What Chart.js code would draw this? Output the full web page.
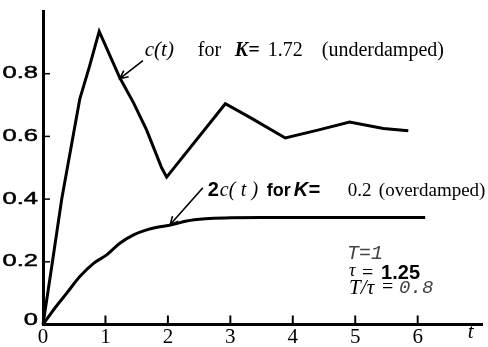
<!DOCTYPE html>
<html>
<head>
<meta charset="utf-8">
<script src="https://cdn.jsdelivr.net/npm/chart.js@4"></script>
<style>
  html, body { margin: 0; padding: 0; background: #fff; }
</style>
</head>
<body>
<canvas id="respChart" width="488" height="347"></canvas>
<script>
// underdamped response, K = 1.72
const tUnder = [0, 0.14, 0.30, 0.49, 0.59, 0.74, 0.90, 1.23, 1.45, 1.66, 1.8, 1.9, 1.98, 2.92, 3.32, 3.88, 4.4, 4.91, 5.45, 5.85];
const cUnder = [0, 0.185, 0.40, 0.61, 0.72, 0.82, 0.935, 0.787, 0.707, 0.62, 0.55, 0.50, 0.47, 0.704, 0.66, 0.595, 0.62, 0.646, 0.625, 0.618];

// overdamped response (2c(t)), K = 0.2
const tOver = [0, 0.2, 0.38, 0.59, 0.81, 1.02, 1.23, 1.45, 1.66, 1.87, 2.04, 2.3, 2.6, 2.9, 3.5, 4.5, 5.5, 6.12];
const cOver = [0, 0.055, 0.10, 0.153, 0.195, 0.222, 0.259, 0.286, 0.302, 0.312, 0.317, 0.33, 0.337, 0.34, 0.341, 0.341, 0.341, 0.341];

const xTicks = [0, 1, 2, 3, 4, 5, 6];
const yTicks = [0, 0.2, 0.4, 0.6, 0.8];
const yLabels = ["0", "0.2", "0.4", "0.6", "0.8"];

function toPoints(ts, vs) {
    return ts.map((t, i) => ({ x: t, y: vs[i] }));
}

const SERIF = "'Liberation Serif', 'Times New Roman', serif";
const SANS = "'Liberation Sans', Arial, sans-serif";
const MONO = "'Liberation Mono', 'Courier New', monospace";

function piece(ctx, text, x, y, font, color) {
    ctx.font = font;
    ctx.fillStyle = color || "#000";
    ctx.fillText(text, x, y);
}

function arrow(ctx, x1, y1, x2, y2) {
    let ang = Math.atan2(y2 - y1, x2 - x1);
    let h = 9;
    ctx.beginPath();
    ctx.moveTo(x1, y1);
    ctx.lineTo(x2, y2);
    ctx.moveTo(x2 - h * Math.cos(ang - 0.45), y2 - h * Math.sin(ang - 0.45));
    ctx.lineTo(x2, y2);
    ctx.lineTo(x2 - h * Math.cos(ang + 0.45), y2 - h * Math.sin(ang + 0.45));
    ctx.strokeStyle = "#000";
    ctx.lineWidth = 1.6;
    ctx.stroke();
}

const decorPlugin = {
    id: "decor",
    afterDraw(chart) {
        let ctx = chart.ctx;
        let xs = chart.scales.x;
        let ys = chart.scales.y;
        let X = v => xs.getPixelForValue(v);
        let Y = v => ys.getPixelForValue(v);
        let x0 = X(0), y0 = Y(0);

        ctx.save();
        ctx.strokeStyle = "#000";

        // tick marks on the inside of the axes
        ctx.lineWidth = 2;
        xTicks.slice(1).forEach(v => {
            ctx.beginPath();
            ctx.moveTo(X(v), y0);
            ctx.lineTo(X(v), y0 - 9);
            ctx.stroke();
        });
        ctx.lineWidth = 1.5;
        yTicks.slice(1).forEach(v => {
            ctx.beginPath();
            ctx.moveTo(x0, Y(v));
            ctx.lineTo(x0 + 7, Y(v));
            ctx.stroke();
        });

        // y tick labels (wide sans)
        ctx.textAlign = "right";
        ctx.textBaseline = "middle";
        ctx.lineWidth = 0.5;
        yTicks.forEach((v, i) => {
            ctx.save();
            ctx.translate(38, v === 0 ? Y(v) - 4 : Y(v));
            ctx.scale(1.5, 1);
            piece(ctx, yLabels[i], 0, 0, "17px " + SANS);
            ctx.strokeText(yLabels[i], 0, 0);
            ctx.restore();
        });

        ctx.textAlign = "left";
        ctx.textBaseline = "alphabetic";

        // label for underdamped curve
        let lx = X(1.63), ly = Y(0.855);
        piece(ctx, "c(t)", lx, ly, "italic 21px " + SERIF);
        piece(ctx, "for", lx + 53, ly, "20px " + SERIF);
        piece(ctx, "K=", lx + 90, ly, "bold italic 20px " + SERIF);
        piece(ctx, "1.72", lx + 123, ly, "20px " + SERIF);
        piece(ctx, "(underdamped)", lx + 177, ly, "20px " + SERIF);
        arrow(ctx, X(1.60), Y(0.842), X(1.23), Y(0.784));

        // label for overdamped curve
        let ox = X(2.64), oy = Y(0.41);
        piece(ctx, "2", ox, oy, "bold 20px " + SANS);
        piece(ctx, "c(", ox + 12, oy, "italic 20px " + SERIF);
        piece(ctx, "t )", ox + 33, oy, "italic 20px " + SERIF);
        piece(ctx, "for", ox + 59, oy, "bold 18px " + SANS);
        piece(ctx, "K=", ox + 86, oy, "bold italic 20px " + SANS);
        piece(ctx, "0.2", ox + 140, oy, "19px " + SERIF);
        piece(ctx, "(overdamped)", ox + 171, oy, "19px " + SERIF);
        arrow(ctx, X(2.56), Y(0.436), X(2.035), Y(0.318));

        // parameters
        let px = X(4.87);
        piece(ctx, "T=1", px, Y(0.209), "italic 20px " + MONO, "#444");
        piece(ctx, "\u03C4", px + 2, Y(0.155), "italic 18px " + SERIF);
        piece(ctx, "=", px + 15, Y(0.146), "20px " + SERIF);
        piece(ctx, "1.25", px + 34, Y(0.146), "bold 20px " + SANS);
        piece(ctx, "T/\u03C4", px + 2, Y(0.097), "italic 21px " + SERIF);
        piece(ctx, "=", px + 35, Y(0.099), "20px " + SERIF);
        piece(ctx, "0.8", px + 52, Y(0.099), "italic 19px " + MONO, "#444");

        // axis name
        piece(ctx, "t", X(6.8), Y(-0.043), "italic 21px " + SERIF);

        ctx.restore();
    }
};

new Chart(document.getElementById("respChart").getContext("2d"), {
    type: "line",
    data: {
        datasets: [
            {
                data: toPoints(tUnder, cUnder),
                borderColor: "#000",
                borderWidth: 3,
                pointRadius: 0,
                tension: 0,
                fill: false,
                clip: 6
            },
            {
                data: toPoints(tOver, cOver),
                borderColor: "#000",
                borderWidth: 3,
                pointRadius: 0,
                cubicInterpolationMode: "monotone",
                fill: false,
                clip: 6
            }
        ]
    },
    options: {
        responsive: false,
        animation: false,
        devicePixelRatio: 1,
        layout: { padding: { top: 11, right: 6, left: 0, bottom: 0 } },
        plugins: { legend: { display: false }, tooltip: { enabled: false } },
        scales: {
            x: {
                type: "linear",
                min: 0,
                max: 7.03,
                grid: { display: false, drawTicks: false },
                border: { display: true, color: "#000", width: 3 },
                ticks: {
                    stepSize: 1,
                    padding: 0,
                    color: "#000",
                    font: { family: SERIF, size: 21 },
                    callback: v => (xTicks.includes(v) ? String(v) : "")
                },
                afterFit: s => { s.height = 22.5; }
            },
            y: {
                type: "linear",
                min: 0,
                max: 1.0,
                grid: { display: false, drawTicks: false },
                border: { display: true, color: "#000", width: 3 },
                ticks: { display: false },
                afterFit: s => { s.width = 43; }
            }
        }
    },
    plugins: [decorPlugin]
});
</script>
</body>
</html>
